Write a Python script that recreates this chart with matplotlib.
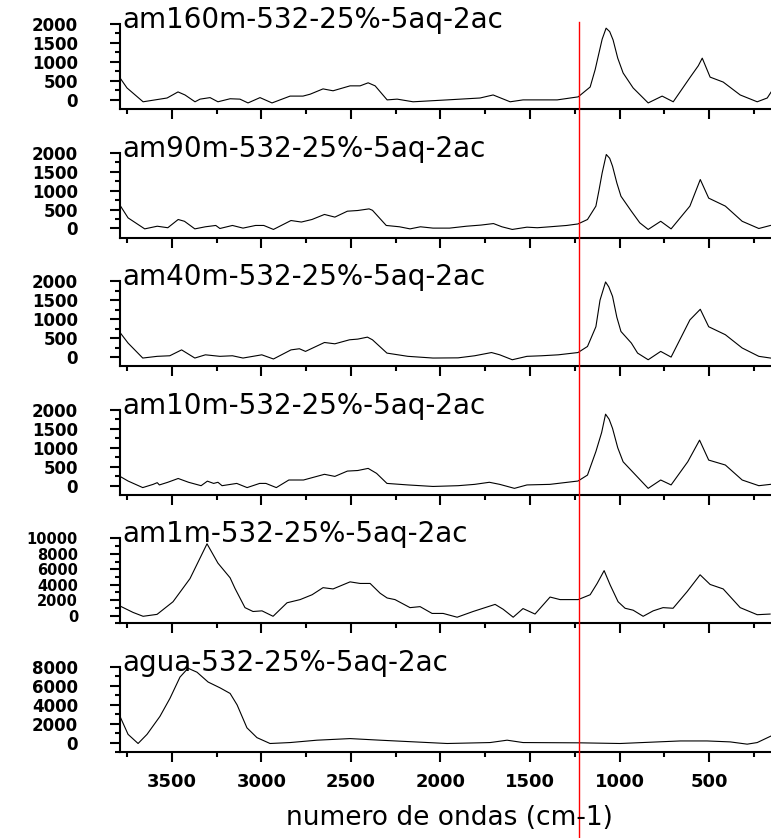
import matplotlib
matplotlib.use("Agg")
import matplotlib.pyplot as plt
from matplotlib.ticker import MultipleLocator
from matplotlib.transforms import blended_transform_factory
import matplotlib.lines as mlines

plt.rcParams['font.family'] = ['DejaVu Sans']

# ---------------- data ----------------
titles = ["am160m-532-25%-5aq-2ac", "am90m-532-25%-5aq-2ac", "am40m-532-25%-5aq-2ac",
          "am10m-532-25%-5aq-2ac", "am1m-532-25%-5aq-2ac", "agua-532-25%-5aq-2ac"]

wn_160 = [3790, 3751, 3661, 3527, 3466, 3427, 3371, 3343, 3287, 3243, 3175, 3120, 3075, 3008,
          2941, 2840, 2768, 2728, 2656, 2600, 2505, 2449, 2404, 2365, 2298, 2242, 2153, 1963,
          1779, 1706, 1611, 1539, 1348, 1231, 1164, 1136, 1120, 1097, 1075, 1055, 1036, 1010,
          980, 924, 840, 762, 700, 605, 560, 538, 494, 421, 326, 231, 175, 153]
in_160 = [580, 315, -50, 50, 210, 130, -50, 20, 60, -50, 30, 20, -80, 60,
          -80, 100, 100, 150, 290, 240, 370, 370, 450, 370, 0, 20, -50, 0,
          50, 130, -50, 0, 0, 80, 340, 800, 1130, 1600, 1890, 1800, 1580, 1100,
          710, 315, -80, 100, -50, 600, 900, 1100, 600, 470, 130, -50, 50, 210]

wn_90 = [3787, 3745, 3652, 3582, 3523, 3465, 3430, 3372, 3313, 3255, 3232, 3162, 3103, 3033,
         2987, 2933, 2835, 2777, 2718, 2648, 2590, 2520, 2462, 2399, 2380, 2303, 2229, 2170,
         2112, 2042, 1949, 1855, 1774, 1704, 1657, 1599, 1517, 1459, 1389, 1295, 1232, 1179,
         1132, 1115, 1097, 1074, 1055, 1039, 1015, 992, 934, 887, 840, 770, 712, 607, 549, 502,
         409, 315, 222, 157]
in_90 = [590, 280, -10, 60, 20, 237, 190, -10, 45, 80, 0, 80, 10, 80,
         80, -25, 210, 170, 237, 370, 300, 456, 474, 517, 480, 80, 45, -10,
         45, 10, 10, 60, 90, 130, 45, -25, 35, 20, 45, 80, 120, 237,
         590, 1000, 1465, 1950, 1850, 1640, 1200, 850, 456, 150, -25, 190, -10, 590, 1290, 800,
         590, 190, 0, 80]

wn_40 = [3787, 3745, 3663, 3582, 3512, 3446, 3372, 3313, 3232, 3162, 3103, 2998, 2933, 2835,
         2788, 2754, 2648, 2590, 2508, 2462, 2408, 2380, 2299, 2182, 2042, 1902, 1809, 1715,
         1669, 1599, 1517, 1435, 1342, 1232, 1179, 1132, 1109, 1078, 1060, 1039, 1015, 992,
         934, 899, 840, 770, 712, 607, 549, 502, 409, 315, 222, 157]
in_40 = [630, 370, -25, 20, 35, 190, -25, 60, 20, 35, -25, 60, -50, 190,
         220, 150, 385, 350, 456, 474, 526, 456, 105, 20, -25, -20, 35, 120,
         60, -70, 20, 35, 60, 120, 280, 800, 1500, 1980, 1850, 1600, 1050, 675,
         370, 105, -70, 150, 0, 980, 1260, 800, 590, 240, 20, -25]

wn_10 = [3787, 3745, 3663, 3605, 3582, 3570, 3523, 3465, 3407, 3337, 3302, 3267, 3243, 3220,
         3138, 3080, 3010, 2975, 2917, 2847, 2765, 2648, 2590, 2520, 2462, 2404, 2357, 2299,
         2182, 2042, 1902, 1809, 1727, 1669, 1587, 1517, 1389, 1232, 1179, 1132, 1100, 1078,
         1058, 1039, 1010, 980, 910, 840, 770, 712, 619, 553, 502, 409, 315, 222, 157]
in_10 = [237, 123, -50, 35, 80, 20, 90, 190, 90, 0, 120, 60, 90, 0,
         60, -50, 60, 60, -50, 150, 150, 300, 245, 385, 400, 456, 325, 60,
         20, -20, 0, 35, 90, 35, -70, 20, 35, 123, 280, 900, 1400, 1885,
         1750, 1510, 1000, 630, 280, -70, 150, 20, 630, 1200, 675, 545, 150, 0, 35]

wn_1 = [3790, 3717, 3661, 3583, 3494, 3399, 3304, 3243, 3175, 3148, 3092, 3047, 2997, 2935,
        2857, 2784, 2717, 2656, 2600, 2505, 2449, 2393, 2337, 2298, 2254, 2170, 2114, 2047,
        1985, 1907, 1818, 1695, 1650, 1594, 1539, 1472, 1388, 1332, 1231, 1164, 1125, 1086,
        1052, 1008, 969, 924, 868, 812, 757, 701, 622, 550, 494, 421, 326, 231, 159]
in_1 = [1250, 420, -80, 170, 1800, 4800, 9300, 6800, 4900, 3540, 1040, 540, 625, -80,
        1670, 2080, 2710, 3625, 3460, 4375, 4170, 4170, 2900, 2290, 2080, 1040, 1170, 290,
        290, -200, 540, 1460, 830, -200, 920, 210, 2410, 2080, 2080, 2710, 4170, 5830,
        3960, 1800, 960, 710, -80, 625, 1040, 960, 3125, 5290, 4040, 3460, 1040, 125, 210]

wn_agua = [3790, 3745, 3689, 3639, 3567, 3511, 3455, 3410, 3360, 3298, 3231, 3175, 3136, 3081,
           3025, 2952, 2840, 2690, 2505, 2337, 1963, 1723, 1628, 1539, 1220, 997, 661, 511,
           382, 287, 231, 153]
in_agua = [2770, 870, -100, 870, 2770, 4680, 6930, 7870, 7450, 6410, 5790, 5200, 3990, 1560,
           520, -100, 0, 250, 420, 250, -100, 0, 250, 0, -30, -100, 170, 170,
           70, -170, 0, 700]

wavenumbers = [wn_160, wn_90, wn_40, wn_10, wn_1, wn_agua]
intensities = [in_160, in_90, in_40, in_10, in_1, in_agua]

y_limits = [(-240, 2000), (-240, 2000), (-240, 2000), (-240, 2000), (-1000, 10000), (-1000, 8000)]
y_ticks = [[0, 500, 1000, 1500, 2000]] * 4 + [[0, 2000, 4000, 6000, 8000, 10000],
                                             [0, 2000, 4000, 6000, 8000]]
y_minor = [250, 250, 250, 250, 1000, 1000]
y_label_size = [12, 12, 12, 12, 10.5, 12]
x_ticks = [3500, 3000, 2500, 2000, 1500, 1000, 500]
x_limits = (3790, 154)
marker_wavenumber = 1229
x_label = "numero de ondas (cm-1)"

# ---------------- figure ----------------
W, H = 771, 838
fig = plt.figure(figsize=(W / 100, H / 100), dpi=100)
left = 120 / W
width = 1 - left
axes = []
for i in range(6):
    top_px = 24 + 128.6 * i
    bot_px = 109 + 128.6 * i
    ax = fig.add_axes([left, 1 - bot_px / H, width, (bot_px - top_px) / H])
    axes.append(ax)
    ax.plot(wavenumbers[i], intensities[i], color='black', lw=0.8)
    ax.set_xlim(*x_limits)
    ax.set_ylim(*y_limits[i])
    for s in ('top', 'right'):
        ax.spines[s].set_visible(False)
    for s in ('left', 'bottom'):
        ax.spines[s].set_linewidth(1.5)
    ax.set_xticks(x_ticks)
    ax.xaxis.set_minor_locator(MultipleLocator(250))
    ax.set_yticks(y_ticks[i])
    ax.set_yticklabels([str(t) for t in y_ticks[i]], fontweight='bold', fontsize=y_label_size[i])
    ax.yaxis.set_minor_locator(MultipleLocator(y_minor[i]))
    ax.tick_params(which='major', direction='out', length=7.2, width=1.5)
    ax.tick_params(which='minor', direction='out', length=3.6, width=1.5)
    ax.tick_params(axis='y', which='major', pad=23)
    if i < 5:
        ax.tick_params(axis='x', labelbottom=False)
    else:
        ax.set_xticklabels([str(t) for t in x_ticks], fontweight='bold', fontsize=13)
        ax.tick_params(axis='x', which='major', pad=8)
    ax.text(0.004, 1 - 4 / (bot_px - top_px), titles[i], transform=ax.transAxes,
            fontsize=20, ha='left', va='baseline', clip_on=False)

# red reference line spanning the panels
trans = blended_transform_factory(axes[-1].transData, fig.transFigure)
fig.add_artist(mlines.Line2D([marker_wavenumber, marker_wavenumber], [0, 1 - 22 / H],
                             transform=trans, color='red', lw=1.0))

fig.text(449 / W, 1 - 818 / H, x_label, fontsize=19, ha='center', va='center')

fig.savefig("out.png", dpi=100)
